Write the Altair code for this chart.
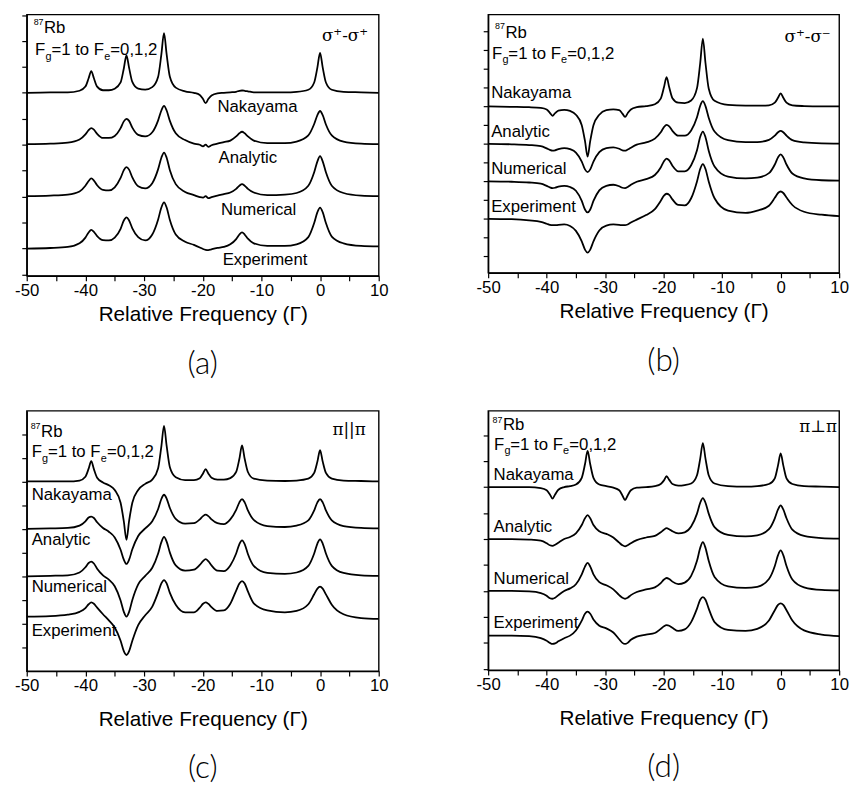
import altair as alt
import pandas as pd

# common frequency grid (relative frequency, in units of Gamma)
X = [-50, -46, -43, -41, -40, -39.45, -39, -38.55, -38, -37, -36, -35, -34, -33.45, -33,
     -32.55, -32, -31, -29.8, -28.6, -27.6, -27.05, -26.6, -26.15, -25.6, -24.6, -23, -21.5,
     -20.5, -19.95, -19.5, -19.05, -18.5, -17.5, -16.4, -15.3, -14.3, -13.75, -13.3, -12.85,
     -12.3, -11.3, -9, -6, -4, -2, -1, -0.45, 0, 0.45, 1, 2, 4, 7, 10]

CURVES = ["Nakayama", "Analytic", "Numerical", "Experiment"]
OFFSETS = [3, 2, 1, 0]

# (a) sigma+ - sigma+
A_NAKAYAMA = [0.0, 0.01, 0.01, 0.04, 0.12, 0.28, 0.42, 0.28, 0.12, 0.05, 0.05, 0.08, 0.20, 0.47, 0.72,
              0.48, 0.21, 0.08, 0.06, 0.11, 0.31, 0.74, 1.15, 0.74, 0.31, 0.10, 0.03, 0.0, -0.04, -0.12,
              -0.20, -0.12, -0.05, -0.01, 0.0, 0.01, 0.02, 0.04, 0.045, 0.04, 0.03, 0.01, 0.01, 0.01, 0.02,
              0.06, 0.20, 0.49, 0.77, 0.49, 0.20, 0.06, 0.02, 0.01, 0.0]
A_ANALYTIC = [0.01, 0.02, 0.04, 0.10, 0.20, 0.28, 0.32, 0.29, 0.21, 0.13, 0.13, 0.17, 0.32, 0.45, 0.50,
              0.46, 0.33, 0.19, 0.16, 0.24, 0.47, 0.66, 0.75, 0.66, 0.46, 0.22, 0.09, 0.02, 0.0, -0.03,
              0.0, -0.04, -0.01, 0.02, 0.05, 0.08, 0.16, 0.22, 0.25, 0.22, 0.16, 0.08, 0.03, 0.03, 0.06,
              0.18, 0.40, 0.57, 0.65, 0.57, 0.39, 0.18, 0.06, 0.02, 0.01]
A_NUMERICAL = [0.01, 0.02, 0.04, 0.10, 0.21, 0.30, 0.35, 0.31, 0.22, 0.13, 0.12, 0.18, 0.36, 0.51, 0.57,
               0.52, 0.37, 0.20, 0.16, 0.26, 0.53, 0.75, 0.85, 0.75, 0.51, 0.24, 0.09, 0.03, -0.01, -0.02,
               0.01, -0.03, -0.01, 0.02, 0.05, 0.08, 0.15, 0.21, 0.24, 0.21, 0.15, 0.08, 0.03, 0.04, 0.07,
               0.21, 0.47, 0.68, 0.78, 0.68, 0.47, 0.21, 0.07, 0.02, 0.01]
A_EXPERIMENT = [0.0, 0.01, 0.03, 0.10, 0.21, 0.31, 0.36, 0.32, 0.24, 0.16, 0.155, 0.21, 0.38, 0.54, 0.60,
                0.54, 0.39, 0.22, 0.155, 0.27, 0.56, 0.79, 0.89, 0.79, 0.55, 0.27, 0.13, 0.07, 0.02, -0.01,
                -0.025, -0.03, -0.015, 0.01, 0.03, 0.08, 0.18, 0.27, 0.31, 0.27, 0.19, 0.10, 0.05, 0.05, 0.08,
                0.22, 0.49, 0.70, 0.79, 0.70, 0.49, 0.23, 0.10, 0.05, 0.04]

# (b) sigma+ - sigma-
B_NAKAYAMA = [0.0, -0.01, -0.02, -0.04, -0.08, -0.17, -0.25, -0.18, -0.11, -0.09, -0.12, -0.22, -0.50, -0.92,
              -1.34, -0.92, -0.50, -0.22, -0.10, -0.08, -0.10, -0.19, -0.28, -0.18, -0.08, -0.02, 0.01, 0.06,
              0.21, 0.51, 0.78, 0.51, 0.22, 0.10, 0.09, 0.16, 0.49, 1.16, 1.81, 1.16, 0.48, 0.15, 0.04, 0.02,
              0.02, 0.03, 0.10, 0.23, 0.35, 0.23, 0.10, 0.03, 0.01, 0.0, 0.0]
B_ANALYTIC = [0.0, -0.01, -0.03, -0.06, -0.12, -0.16, -0.18, -0.17, -0.14, -0.11, -0.14, -0.23, -0.47, -0.68,
              -0.75, -0.68, -0.47, -0.22, -0.11, -0.09, -0.13, -0.17, -0.18, -0.15, -0.10, -0.02, 0.04, 0.14,
              0.31, 0.45, 0.51, 0.47, 0.35, 0.22, 0.22, 0.36, 0.71, 1.02, 1.14, 1.01, 0.70, 0.33, 0.10, 0.05,
              0.05, 0.11, 0.22, 0.31, 0.35, 0.31, 0.22, 0.10, 0.04, 0.015, 0.01]
B_NUMERICAL = [0.0, -0.01, -0.03, -0.06, -0.12, -0.16, -0.18, -0.17, -0.14, -0.12, -0.15, -0.25, -0.52, -0.75,
               -0.83, -0.75, -0.52, -0.24, -0.12, -0.09, -0.13, -0.17, -0.18, -0.15, -0.09, -0.01, 0.06, 0.17,
               0.37, 0.54, 0.61, 0.56, 0.42, 0.27, 0.27, 0.43, 0.83, 1.19, 1.33, 1.18, 0.82, 0.40, 0.13, 0.08,
               0.10, 0.22, 0.45, 0.64, 0.72, 0.64, 0.45, 0.21, 0.08, 0.03, 0.02]
B_EXPERIMENT = [0.0, -0.01, -0.04, -0.08, -0.13, -0.16, -0.17, -0.17, -0.16, -0.15, -0.19, -0.32, -0.60, -0.82,
                -0.90, -0.82, -0.60, -0.31, -0.18, -0.15, -0.16, -0.17, -0.17, -0.15, -0.10, -0.02, 0.10, 0.26,
                0.48, 0.62, 0.67, 0.64, 0.52, 0.37, 0.36, 0.55, 1.00, 1.33, 1.46, 1.33, 1.00, 0.55, 0.22, 0.16,
                0.22, 0.35, 0.56, 0.69, 0.73, 0.69, 0.57, 0.37, 0.19, 0.11, 0.07]

# (c) pi || pi
C_NAKAYAMA = [0.0, 0.0, 0.0, 0.02, 0.10, 0.27, 0.43, 0.26, 0.08, -0.02, -0.08, -0.18, -0.45, -0.84, -1.23,
              -0.83, -0.45, -0.18, -0.05, 0.04, 0.28, 0.74, 1.17, 0.75, 0.30, 0.09, 0.03, 0.03, 0.07, 0.17,
              0.26, 0.17, 0.08, 0.04, 0.04, 0.07, 0.20, 0.48, 0.76, 0.48, 0.20, 0.06, 0.02, 0.01, 0.02,
              0.06, 0.18, 0.42, 0.66, 0.42, 0.18, 0.06, 0.02, 0.01, 0.0]
C_ANALYTIC = [0.0, 0.01, 0.02, 0.07, 0.16, 0.24, 0.26, 0.23, 0.14, 0.02, -0.06, -0.18, -0.44, -0.65, -0.74,
              -0.65, -0.43, -0.15, 0.01, 0.16, 0.42, 0.63, 0.72, 0.64, 0.44, 0.21, 0.11, 0.12, 0.20, 0.27,
              0.30, 0.27, 0.20, 0.12, 0.10, 0.20, 0.40, 0.56, 0.63, 0.56, 0.39, 0.19, 0.06, 0.04, 0.07,
              0.18, 0.39, 0.56, 0.63, 0.56, 0.39, 0.18, 0.06, 0.02, 0.01]
C_NUMERICAL = [0.0, 0.01, 0.02, 0.08, 0.19, 0.28, 0.31, 0.27, 0.16, 0.02, -0.07, -0.21, -0.51, -0.75, -0.85,
               -0.75, -0.50, -0.17, 0.01, 0.18, 0.48, 0.72, 0.83, 0.73, 0.50, 0.23, 0.12, 0.14, 0.24, 0.32,
               0.36, 0.32, 0.23, 0.12, 0.11, 0.23, 0.48, 0.68, 0.76, 0.68, 0.47, 0.22, 0.07, 0.05, 0.08,
               0.22, 0.48, 0.69, 0.78, 0.69, 0.48, 0.22, 0.07, 0.02, 0.01]
C_EXPERIMENT = [0.15, 0.16, 0.19, 0.25, 0.33, 0.41, 0.45, 0.42, 0.34, 0.20, 0.07, -0.08, -0.36, -0.58, -0.66,
                -0.58, -0.36, -0.03, 0.18, 0.36, 0.66, 0.85, 0.92, 0.85, 0.65, 0.40, 0.24, 0.24, 0.34, 0.42,
                0.45, 0.42, 0.35, 0.27, 0.28, 0.42, 0.70, 0.85, 0.90, 0.85, 0.68, 0.43, 0.28, 0.24, 0.27,
                0.41, 0.62, 0.74, 0.78, 0.74, 0.62, 0.40, 0.20, 0.12, 0.10]

# (d) pi perp pi
D_NAKAYAMA = [0.0, 0.0, 0.0, -0.02, -0.06, -0.14, -0.22, -0.14, -0.05, 0.0, 0.02, 0.05, 0.18, 0.44, 0.70,
              0.44, 0.18, 0.05, 0.02, -0.01, -0.06, -0.16, -0.25, -0.16, -0.06, -0.01, 0.0, 0.02, 0.06, 0.13,
              0.21, 0.14, 0.06, 0.03, 0.04, 0.07, 0.23, 0.55, 0.85, 0.55, 0.23, 0.07, 0.02, 0.01, 0.02,
              0.06, 0.17, 0.42, 0.65, 0.42, 0.17, 0.06, 0.02, 0.01, 0.0]
D_ANALYTIC = [0.0, 0.0, -0.01, -0.03, -0.08, -0.12, -0.13, -0.11, -0.07, 0.0, 0.04, 0.11, 0.27, 0.40, 0.46,
              0.40, 0.27, 0.15, 0.10, 0.03, -0.07, -0.12, -0.14, -0.12, -0.08, -0.02, 0.03, 0.06, 0.13, 0.18,
              0.21, 0.19, 0.15, 0.11, 0.13, 0.24, 0.49, 0.70, 0.79, 0.70, 0.49, 0.23, 0.08, 0.05, 0.07,
              0.19, 0.40, 0.57, 0.65, 0.57, 0.40, 0.18, 0.06, 0.02, 0.01]
D_NUMERICAL = [0.0, 0.0, -0.01, -0.04, -0.09, -0.14, -0.15, -0.13, -0.08, 0.0, 0.05, 0.13, 0.32, 0.47, 0.54,
               0.47, 0.32, 0.17, 0.11, 0.03, -0.08, -0.13, -0.15, -0.13, -0.08, -0.02, 0.03, 0.07, 0.15, 0.22,
               0.25, 0.23, 0.18, 0.13, 0.16, 0.29, 0.58, 0.83, 0.94, 0.83, 0.58, 0.27, 0.09, 0.06, 0.08,
               0.23, 0.48, 0.69, 0.78, 0.69, 0.48, 0.22, 0.07, 0.02, 0.01]
D_EXPERIMENT = [0.14, 0.14, 0.13, 0.09, 0.04, 0.0, -0.02, -0.01, 0.03, 0.09, 0.14, 0.24, 0.43, 0.56, 0.60,
                0.56, 0.45, 0.33, 0.28, 0.20, 0.07, 0.0, -0.02, 0.0, 0.06, 0.12, 0.16, 0.19, 0.27, 0.32,
                0.34, 0.33, 0.29, 0.23, 0.26, 0.40, 0.66, 0.83, 0.88, 0.83, 0.66, 0.40, 0.25, 0.23, 0.27,
                0.43, 0.63, 0.73, 0.76, 0.73, 0.63, 0.43, 0.24, 0.16, 0.13]

HEADER_TEXT = ["87", "Rb", "F", "g", "=1 to F", "e", "=0,1,2"]
HEADER_SIZE = [9, 17, 17, 11, 17, 11, 17]
X_TICKS = list(range(-50, 11, 5))
X_TITLE = "Relative Frequency (\u0393)"
FONT = "Liberation Sans"

PANELS = [
    dict(tag="(a)", mode="\u03c3\u207a-\u03c3\u207a", series=[A_NAKAYAMA, A_ANALYTIC, A_NUMERICAL, A_EXPERIMENT],
         width=357, height=265, ydom=[-0.525, 4.51], yticks=[-0.5, 0, 0.5, 1, 1.5, 2, 2.5, 3, 3.5, 4, 4.5],
         hdx=[7, 17.5, 8.5, 19, 25, 78.5, 84.8], hy=[4.31, 4.16, 3.73, 3.64, 3.73, 3.64, 3.73],
         lx=[-17.49, -17.3, -16.9, -16.6], ly=[2.63, 1.65, 0.65, -0.31], mx=4.25, my=4.0,
         tpad=5, toff=26),
    dict(tag="(b)", mode="\u03c3\u207a-\u03c3\u207b", series=[B_NAKAYAMA, B_ANALYTIC, B_NUMERICAL, B_EXPERIMENT],
         width=356, height=262, ydom=[-1.44, 5.455], yticks=[-1, -0.5, 0, 0.5, 1, 1.5, 2, 2.5, 3, 3.5, 4, 4.5, 5],
         hdx=[7, 17.5, 4, 14.5, 20.5, 74, 80.3], hy=[5.06, 4.82, 4.28, 4.16, 4.28, 4.16, 4.28],
         lx=[-49.49, -49.49, -49.49, -49.49], ly=[3.22, 2.19, 1.2, 0.17], mx=4.6, my=4.72,
         tpad=5, toff=26),
    dict(tag="(c)", mode="\u03c0||\u03c0", series=[C_NAKAYAMA, C_ANALYTIC, C_NUMERICAL, C_EXPERIMENT],
         width=357, height=264, ydom=[-1.0, 4.49], yticks=[-0.5, 0, 0.5, 1, 1.5, 2, 2.5, 3, 3.5, 4],
         hdx=[4, 14.5, 5, 15.5, 21.5, 75, 81.3], hy=[4.1, 3.94, 3.52, 3.42, 3.52, 3.42, 3.52],
         lx=[-49.16, -49.16, -49.16, -49.16], ly=[2.61, 1.65, 0.66, -0.26], mx=4.95, my=3.97,
         tpad=15, toff=24),
    dict(tag="(d)", mode="\u03c0\u22a5\u03c0", series=[D_NAKAYAMA, D_ANALYTIC, D_NUMERICAL, D_EXPERIMENT],
         width=356, height=263, ydom=[-0.525, 4.47], yticks=[-0.5, 0, 0.5, 1, 1.5, 2, 2.5, 3, 3.5, 4],
         hdx=[4.5, 15, 6, 16.5, 22.5, 76, 82.3], hy=[4.24, 4.1, 3.72, 3.63, 3.72, 3.63, 3.72],
         lx=[-49.07, -49.07, -49.07, -49.07], ly=[3.14, 2.13, 1.14, 0.28], mx=6.4, my=4.06,
         tpad=15, toff=24),
]


def make_panel(p):
    rows = []
    for name, vals, off in zip(CURVES, p["series"], OFFSETS):
        for xv, yv in zip(X, vals):
            rows.append({"x": xv, "y": round(yv + off, 4), "curve": name})
    df = pd.DataFrame(rows)

    xenc = alt.X("x:Q", scale=alt.Scale(domain=[-50, 10], nice=False, zero=False),
                 axis=alt.Axis(values=X_TICKS, title=X_TITLE, grid=False, tickSize=5,
                               labelExpr="datum.value % 10 == 0 ? '' + datum.value : ''",
                               labelFlush=False, labelOverlap=False, labelFontSize=17, labelFont=FONT,
                               labelPadding=2, titleFontSize=21, titleFont=FONT, titleFontWeight="normal",
                               titlePadding=p["tpad"]))
    yenc = alt.Y("y:Q", scale=alt.Scale(domain=p["ydom"], nice=False, zero=False),
                 axis=alt.Axis(values=p["yticks"], labels=False, title=None, grid=False, tickSize=5))

    lines = alt.Chart(df).mark_line(color="black", strokeWidth=1.8, interpolate="monotone").encode(
        x=xenc, y=yenc, detail="curve:N")

    ppu = p["width"] / 60.0
    ann = []
    for t, s, dx, yy in zip(HEADER_TEXT, HEADER_SIZE, p["hdx"], p["hy"]):
        ann.append({"x": -50 + dx / ppu, "y": yy, "t": t, "fs": s})
    for name, lx, ly in zip(CURVES, p["lx"], p["ly"]):
        ann.append({"x": lx, "y": ly, "t": name, "fs": 17})
    ann_df = pd.DataFrame(ann)
    texts = alt.Chart(ann_df).mark_text(align="left", baseline="alphabetic", font=FONT, color="black").encode(
        x=xenc, y=yenc, text="t:N", size=alt.Size("fs:Q", scale=None))

    mode_df = pd.DataFrame([{"x": p["mx"], "y": p["my"], "t": p["mode"]}])
    mode = alt.Chart(mode_df).mark_text(align="center", baseline="alphabetic", font="DejaVu Serif",
                                        fontSize=17, color="black").encode(x=xenc, y=yenc, text="t:N")

    return alt.layer(lines, texts, mode).properties(
        width=p["width"], height=p["height"],
        title=alt.TitleParams(p["tag"], orient="bottom", anchor="middle", fontSize=32, font="Lato",
                              fontWeight=300, offset=p["toff"], color="black"))


pa, pb, pc, pd_ = [make_panel(p) for p in PANELS]

chart = alt.vconcat(
    alt.hconcat(pa, pb, spacing=87),
    alt.hconcat(pc, pd_, spacing=87),
    spacing=29,
).properties(
    padding={"left": 6, "top": 0, "right": 0, "bottom": 0}
).configure(font=FONT).configure_view(
    stroke="black", strokeWidth=1.4
).configure_axis(
    domainColor="black", domainWidth=1.4, tickColor="black", tickWidth=1.2,
    labelColor="black", titleColor="black"
)

chart.save("out.html", embed_options={"renderer": "svg", "actions": False})
